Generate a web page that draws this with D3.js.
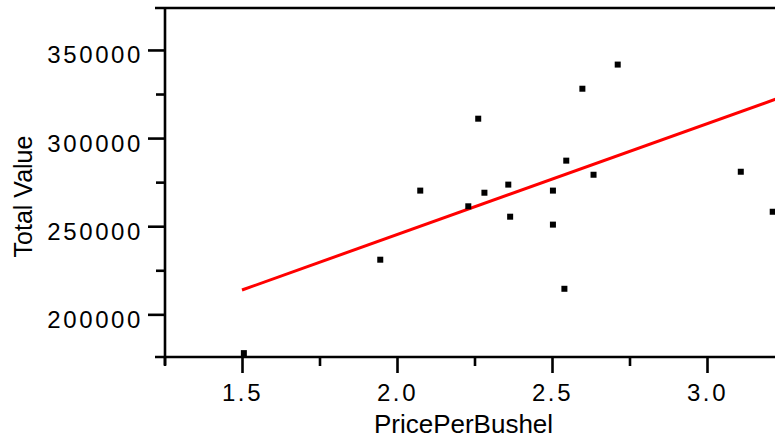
<!DOCTYPE html>
<html>
<head>
<meta charset="utf-8">
<script src="https://cdn.jsdelivr.net/npm/d3@7"></script>
<style>
  html, body { margin: 0; padding: 0; background: #fff; }
  svg { display: block; font-family: "Liberation Sans", Arial, sans-serif; }
</style>
</head>
<body>
<div id="chart"></div>
<script>
// Data
const pricePerBushel = [1.506, 1.946, 2.075, 2.230, 2.262, 2.282, 2.359, 2.365, 2.503, 2.503,
                        2.540, 2.546, 2.598, 2.634, 2.712, 3.109, 3.212];
const totalValue = [178000, 231000, 270200, 261300, 311000, 269000, 273600, 255400, 270200, 250900,
                    214500, 287200, 328000, 279200, 341700, 280900, 258200];

// Fitted line as drawn (value at x = 1.5, slope per unit price)
const fitStartX = 1.5;
const fitEndX = 3.25;
const fitAtStart = 213800;
const fitSlope = 62900;

const xMajorTicks = [1.5, 2.0, 2.5, 3.0];
const xMinorTicks = [1.25, 1.75, 2.25, 2.75];
const yMajorTicks = [200000, 250000, 300000, 350000];
const yMinorTicks = [225000, 275000, 325000];

const W = 775, H = 439;

const svg = d3.select('#chart')
  .append('svg')
  .attr('width', W)
  .attr('height', H);

const x = d3.scaleLinear().domain([1.25, 3.25]).range([164.5, 784.5]);
const y = d3.scaleLinear().domain([175800, 373800]).range([357, 8]);

const axisColor = '#000';
const lineW = 2.6;

// frame lines: top border, bottom axis, left axis
svg.append('line')
  .attr('x1', 155).attr('x2', W)
  .attr('y1', y.range()[1]).attr('y2', y.range()[1])
  .attr('stroke', axisColor).attr('stroke-width', lineW);

svg.append('line')
  .attr('x1', 155).attr('x2', W)
  .attr('y1', y.range()[0]).attr('y2', y.range()[0])
  .attr('stroke', axisColor).attr('stroke-width', lineW);

svg.append('line')
  .attr('x1', 165).attr('x2', 165)
  .attr('y1', y.range()[1]).attr('y2', y.range()[0] + 8)
  .attr('stroke', axisColor).attr('stroke-width', lineW);

// y axis major ticks + labels
const yAxisG = svg.append('g')
  .attr('transform', 'translate(165,0)')
  .call(d3.axisLeft(y).tickValues(yMajorTicks).tickSize(17).tickFormat(d3.format('d')));
yAxisG.select('.domain').remove();
yAxisG.selectAll('line').attr('stroke', axisColor).attr('stroke-width', lineW);
yAxisG.selectAll('text')
  .attr('x', -22)
  .attr('y', 13)
  .attr('dy', null)
  .attr('fill', '#000')
  .style('font-size', '24px')
  .style('letter-spacing', '2.6px');

// y axis minor ticks
const yMinorG = svg.append('g')
  .attr('transform', 'translate(165,0)')
  .call(d3.axisLeft(y).tickValues(yMinorTicks).tickSize(9).tickFormat(''));
yMinorG.select('.domain').remove();
yMinorG.selectAll('line').attr('stroke', axisColor).attr('stroke-width', lineW);

// x axis major ticks + labels
const xAxisG = svg.append('g')
  .attr('transform', `translate(0,${y.range()[0]})`)
  .call(d3.axisBottom(x).tickValues(xMajorTicks).tickSize(16).tickFormat(d3.format('.1f')));
xAxisG.select('.domain').remove();
xAxisG.selectAll('line').attr('stroke', axisColor).attr('stroke-width', lineW);
xAxisG.selectAll('text')
  .attr('y', 44)
  .attr('dy', null)
  .attr('fill', '#000')
  .style('font-size', '24px')
  .style('letter-spacing', '2.6px');

// x axis minor ticks
const xMinorG = svg.append('g')
  .attr('transform', `translate(0,${y.range()[0]})`)
  .call(d3.axisBottom(x).tickValues(xMinorTicks).tickSize(9).tickFormat(''));
xMinorG.select('.domain').remove();
xMinorG.selectAll('line').attr('stroke', axisColor).attr('stroke-width', lineW);

// axis titles
svg.append('text')
  .attr('x', 463.5)
  .attr('y', 433)
  .attr('text-anchor', 'middle')
  .style('font-size', '26px')
  .attr('fill', '#000')
  .text('PricePerBushel');

svg.append('text')
  .attr('transform', 'translate(32,196.5) rotate(-90)')
  .attr('text-anchor', 'middle')
  .style('font-size', '25px')
  .attr('fill', '#000')
  .text('Total Value');

// regression line
const fitData = [fitStartX, fitEndX].map(v => ({ px: v, tv: fitAtStart + fitSlope * (v - fitStartX) }));
svg.append('path')
  .datum(fitData)
  .attr('fill', 'none')
  .attr('stroke', '#ff0000')
  .attr('stroke-width', 3)
  .attr('d', d3.line()
    .x(d => x(d.px))
    .y(d => y(d.tv)));

// points
const pts = pricePerBushel.map((p, i) => ({ px: p, tv: totalValue[i] }));
svg.append('g')
  .selectAll('rect')
  .data(pts)
  .join('rect')
  .attr('x', d => x(d.px) - 3)
  .attr('y', d => y(d.tv) - 3)
  .attr('width', 6)
  .attr('height', 6)
  .attr('fill', '#000');
</script>
</body>
</html>
